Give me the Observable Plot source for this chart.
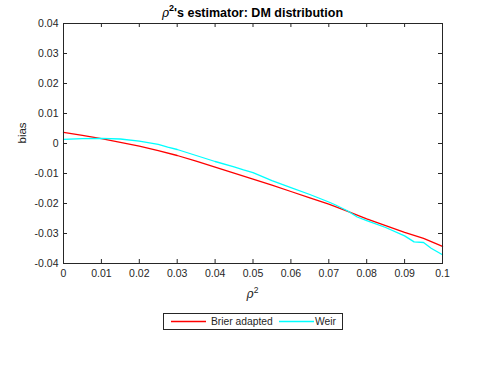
<!DOCTYPE html>
<html><head><meta charset="utf-8">
<script src="https://cdn.jsdelivr.net/npm/d3@7"></script>
<script src="https://cdn.jsdelivr.net/npm/@observablehq/plot@0.6"></script>
<style>
body{margin:0;background:#fff;font-family:"Liberation Sans",Arial,Helvetica,sans-serif;}
#wrap{position:relative;width:488px;height:367px;overflow:hidden;background:#fff;}
#wrap > svg{position:absolute;left:0;top:0;}
.ov{position:absolute;color:#262626;white-space:nowrap;}
#title{left:63px;width:379px;top:2px;text-align:center;font-size:12.5px;font-weight:bold;line-height:15px;color:#000;}
#title i{font-family:"DejaVu Serif",serif;font-weight:normal;font-size:12px;}
#title sup{font-size:9px;position:relative;top:-1px;}
#xlab{left:63px;width:379px;top:283px;text-align:center;font-size:12px;line-height:14px;}
#xlab i{font-family:"DejaVu Serif",serif;}
#xlab sup{font-size:8.5px;}
#legend{position:absolute;left:163px;top:313px;width:178px;height:15px;border:1px solid #262626;background:#fff;}
#legend svg{position:absolute;left:0;top:0;}
#legend .tx{position:absolute;top:1px;font-size:10.3px;line-height:13px;color:#262626;}
</style></head><body>
<div id="wrap"></div>
<script>
// Data
const rhoBrier = [0, 0.005, 0.01, 0.015, 0.02, 0.025, 0.03, 0.035, 0.04, 0.045, 0.05, 0.055, 0.06, 0.065, 0.07, 0.075, 0.08, 0.085, 0.09, 0.095, 0.1];
const biasBrier = [0.0037, 0.0027, 0.0016, 0.0004, -0.0009, -0.0024, -0.0040, -0.0059, -0.0079, -0.0099, -0.0119, -0.0139, -0.0160, -0.0181, -0.0202, -0.0226, -0.0251, -0.0274, -0.0296, -0.0316, -0.0343];
const rhoWeir = [0, 0.005, 0.01, 0.015, 0.02, 0.025, 0.0275, 0.03, 0.035, 0.04, 0.045, 0.0475, 0.05, 0.055, 0.06, 0.065, 0.07, 0.0718, 0.075, 0.0775, 0.08, 0.085, 0.09, 0.0925, 0.095, 0.097, 0.1];
const biasWeir = [0.0014, 0.0016, 0.0017, 0.0015, 0.0008, -0.0003, -0.0012, -0.0020, -0.0040, -0.0060, -0.0078, -0.0088, -0.0097, -0.0124, -0.0147, -0.0170, -0.0195, -0.0205, -0.0225, -0.0245, -0.0257, -0.0280, -0.0308, -0.0328, -0.0330, -0.0349, -0.0371];
const xTicks = [0, 0.01, 0.02, 0.03, 0.04, 0.05, 0.06, 0.07, 0.08, 0.09, 0.1];
const yTicks = [-0.04, -0.03, -0.02, -0.01, 0, 0.01, 0.02, 0.03, 0.04];
const seriesNames = ["Brier adapted", "Weir"];
const seriesColors = ["#ff0000", "#00ffff"];

const brier = rhoBrier.map((x, i) => ({x, y: biasBrier[i]}));
const weir = rhoWeir.map((x, i) => ({x, y: biasWeir[i]}));

const W = 488, H = 367, mL = 63, mR = 46, mT = 23, mB = 104;
const pw = W - mL - mR, ph = H - mT - mB, tk = 4;
const ink = "#262626";

const chart = Plot.plot({
  width: W, height: H,
  marginLeft: mL, marginRight: mR, marginTop: mT, marginBottom: mB,
  style: {fontFamily: '"Liberation Sans", Arial, sans-serif', fontSize: "10.5px", color: ink, background: "transparent"},
  x: {domain: [0, 0.1]},
  y: {domain: [-0.04, 0.04]},
  marks: [
    Plot.line(brier, {x: "x", y: "y", stroke: seriesColors[0], strokeWidth: 1.3}),
    Plot.line(weir, {x: "x", y: "y", stroke: seriesColors[1], strokeWidth: 1.3}),
    Plot.tickX(xTicks, {x: d => d, insetTop: ph - tk, stroke: ink}),
    Plot.tickX(xTicks, {x: d => d, insetBottom: ph - tk, stroke: ink}),
    Plot.tickY(yTicks, {y: d => d, insetRight: pw - tk, stroke: ink}),
    Plot.tickY(yTicks, {y: d => d, insetLeft: pw - tk, stroke: ink}),
    Plot.frame({stroke: ink}),
    Plot.axisX({ticks: xTicks, tickSize: 0, tickPadding: 6, tickFormat: d => String(d), label: null, fill: ink}),
    Plot.axisY({ticks: yTicks, tickSize: 0, tickPadding: 5, tickFormat: d => String(d), label: null, fill: ink}),
    Plot.text(["bias"], {frameAnchor: "left", dx: -41, rotate: -90, fontSize: 11.5, fill: ink})
  ]
});

const wrap = document.getElementById("wrap");
wrap.appendChild(chart);

const title = document.createElement("div");
title.className = "ov"; title.id = "title";
title.innerHTML = "<i>ρ</i><sup>2</sup>'s estimator: DM distribution";
wrap.appendChild(title);

const xlab = document.createElement("div");
xlab.className = "ov"; xlab.id = "xlab";
xlab.innerHTML = "<i>ρ</i><sup>2</sup>";
wrap.appendChild(xlab);

const legend = document.createElement("div");
legend.id = "legend";
const swX = [7, 115], txX = [47, 151], swW = 35;
const ns = "http://www.w3.org/2000/svg";
const lsvg = document.createElementNS(ns, "svg");
lsvg.setAttribute("width", 178); lsvg.setAttribute("height", 15);
legend.appendChild(lsvg);
seriesNames.forEach((name, i) => {
  const ln = document.createElementNS(ns, "line");
  ln.setAttribute("x1", swX[i]); ln.setAttribute("x2", swX[i] + swW);
  ln.setAttribute("y1", 7.5); ln.setAttribute("y2", 7.5);
  ln.setAttribute("stroke", seriesColors[i]); ln.setAttribute("stroke-width", 1.3);
  lsvg.appendChild(ln);
  const tx = document.createElement("div");
  tx.className = "tx"; tx.style.left = txX[i] + "px"; tx.textContent = name;
  legend.appendChild(tx);
});
wrap.appendChild(legend);
</script>
</body></html>
